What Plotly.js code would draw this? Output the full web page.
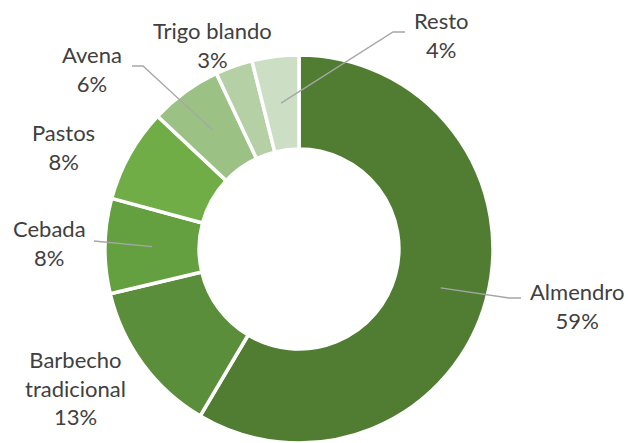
<!DOCTYPE html>
<html>
<head>
<meta charset="utf-8">
<script src="https://cdn.plot.ly/plotly-3.0.1.min.js"></script>
<style>html,body{margin:0;padding:0;background:#fff;}#chart{width:628px;height:443px;}</style>
</head>
<body>
<div id="chart"></div>
<script>
// Data
var categories = ["Almendro", "Barbecho tradicional", "Cebada", "Pastos", "Avena", "Trigo blando", "Resto"];
var labelLines = ["Almendro", "Barbecho<br>tradicional", "Cebada", "Pastos", "Avena", "Trigo blando", "Resto"];
var values = [58.5, 12.8, 7.9, 7.8, 6.0, 3.1, 3.9];
var colors = ["#507d32", "#5b8e3a", "#64a03f", "#70ad47", "#9bc185", "#b4d0a4", "#ccdec4"];

// Layout constants (pixels)
var W = 628, H = 443;
var CX = 299, CY = 249, R = 194, HOLE = 0.515;
var labelPos = [
  {x: 577, y: 306, line: [[509, 298], [521, 298]]},
  {x: 75, y: 388, line: null},
  {x: 49, y: 243, line: [[94, 241]]},
  {x: 63, y: 147, line: null},
  {x: 92, y: 69, line: [[143, 66], [132, 66]]},
  {x: 212, y: 45, line: null},
  {x: 441, y: 35, line: [[393, 32], [405, 32]]}
];

var total = values.reduce(function(a, b) { return a + b; }, 0);
function px2x(p) { return p / W; }
function px2y(p) { return 1 - p / H; }

var annotations = [];
var shapes = [];
var cum = 0;
for (var i = 0; i < values.length; i++) {
  var mid = (cum + values[i] / 2) / total * 2 * Math.PI;
  cum += values[i];
  var rr = R * (1 + HOLE) / 2;
  var ax = CX + rr * Math.sin(mid);
  var ay = CY - rr * Math.cos(mid);
  var pct = Math.round(values[i] * 100 / total) + "%";
  var lp = labelPos[i];
  annotations.push({
    x: px2x(lp.x), y: px2y(lp.y), xref: "paper", yref: "paper",
    xanchor: "center", yanchor: "middle", showarrow: false,
    text: labelLines[i] + "<br>" + pct, align: "center",
    font: {family: "Lato, 'Open Sans', sans-serif", size: 22, color: "#404040"}
  });
  if (lp.line) {
    var path = "M" + px2x(ax) + "," + px2y(ay);
    lp.line.forEach(function(pt) { path += " L" + px2x(pt[0]) + "," + px2y(pt[1]); });
    shapes.push({type: "path", xref: "paper", yref: "paper", path: path,
      line: {color: "#a6a6a6", width: 1.3}});
  }
}

var trace = {
  type: "pie",
  labels: categories,
  values: values,
  hole: HOLE,
  sort: false,
  direction: "clockwise",
  rotation: 0,
  textinfo: "none",
  hoverinfo: "label+percent",
  marker: {colors: colors, line: {color: "#ffffff", width: 3.5}},
  domain: {x: [(CX - R) / W, (CX + R) / W], y: [Math.max(0, 1 - (CY + R) / H), 1 - (CY - R) / H]}
};

var layout = {
  width: W, height: H,
  margin: {l: 0, r: 0, t: 0, b: 0},
  paper_bgcolor: "#ffffff",
  showlegend: false,
  annotations: annotations,
  shapes: shapes
};

Plotly.newPlot("chart", [trace], layout, {displayModeBar: false, staticPlot: true});
</script>
</body>
</html>
